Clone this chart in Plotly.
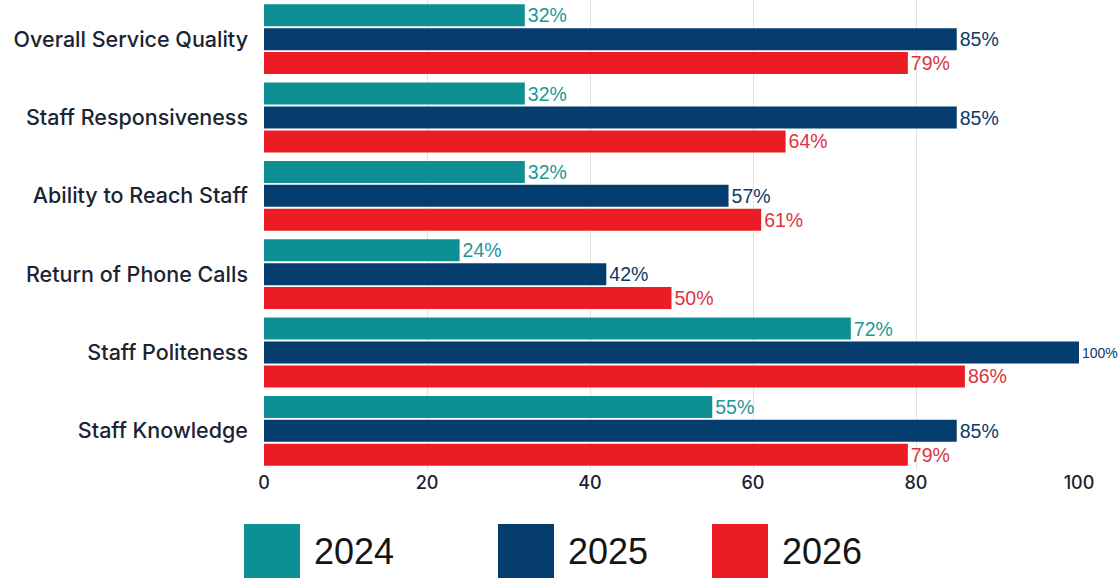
import plotly.graph_objects as go

# Survey categories (top to bottom) and yearly satisfaction scores (%)
categories = [
    "Overall Service Quality",
    "Staff Responsiveness",
    "Ability to Reach Staff",
    "Return of Phone Calls",
    "Staff Politeness",
    "Staff Knowledge",
]
years = ["2024", "2025", "2026"]
scores_2024 = [32, 32, 32, 24, 72, 55]
scores_2025 = [85, 85, 57, 42, 100, 85]
scores_2026 = [79, 64, 61, 50, 86, 79]
x_ticks = [0, 20, 40, 60, 80, 100]

bar_colors = ["#0E8F94", "#053D6E", "#EC1C24"]
label_colors = ["#1C9898", "#0B3A66", "#E0323A"]
series = [scores_2024, scores_2025, scores_2026]

W, H = 1119, 578
M_L, M_R, M_T, M_B = 264, 40, 0, 108
PLOT_W = W - M_L - M_R
PLOT_H = H - M_T - M_B

fig = go.Figure()
for name, vals, col, lcol in zip(years, series, bar_colors, label_colors):
    # a full-scale value sits at the right edge, so its label is set smaller
    sizes = [14 if v >= 100 else 19.5 for v in vals]
    fig.add_trace(go.Bar(
        name=name,
        y=categories,
        x=vals,
        orientation="h",
        marker=dict(color=col, line=dict(width=0)),
        text=[f"{v}%" for v in vals],
        textposition="outside",
        constraintext="none",
        cliponaxis=False,
        textfont=dict(family="Liberation Sans, Arial, sans-serif", size=sizes, color=lcol),
        showlegend=False,
    ))


def px_x(px):
    return (px - M_L) / PLOT_W


def px_y(py):
    return (M_T + PLOT_H - py) / PLOT_H


# Custom legend: large colour swatches with year labels underneath the chart
shapes = []
annotations = []
swatch_left = [244, 498, 712]
for name, col, left in zip(years, bar_colors, swatch_left):
    shapes.append(dict(
        type="rect", xref="paper", yref="paper",
        x0=px_x(left), x1=px_x(left + 56),
        y0=px_y(524), y1=px_y(580),
        fillcolor=col, line=dict(width=0), layer="above",
    ))
    annotations.append(dict(
        xref="paper", yref="paper",
        x=px_x(left + 68), y=px_y(551),
        xanchor="left", yanchor="middle",
        text=name, showarrow=False,
        font=dict(family="Liberation Sans, Arial, sans-serif", size=36, color="#151515"),
    ))

fig.update_layout(
    width=W, height=H,
    margin=dict(l=M_L, r=M_R, t=M_T, b=M_B, pad=0),
    barmode="group",
    bargap=0.085,
    bargroupgap=0.08,
    plot_bgcolor="white",
    paper_bgcolor="white",
    shapes=shapes,
    annotations=annotations,
    xaxis=dict(
        range=[0, 100],
        tickvals=x_ticks,
        showgrid=True,
        gridcolor="#E3E3E3",
        gridwidth=1,
        zeroline=False,
        showline=False,
        ticks="",
        tickfont=dict(family="Inter, sans-serif", size=18, color="#1B2230", weight=500),
    ),
    yaxis=dict(
        autorange="reversed",
        showgrid=False,
        zeroline=False,
        showline=False,
        ticks="",
        ticklabelstandoff=15,
        tickfont=dict(family="Inter, sans-serif", size=21.5, color="#1B2432", weight=500),
    ),
)

fig.write_html("out.html")
